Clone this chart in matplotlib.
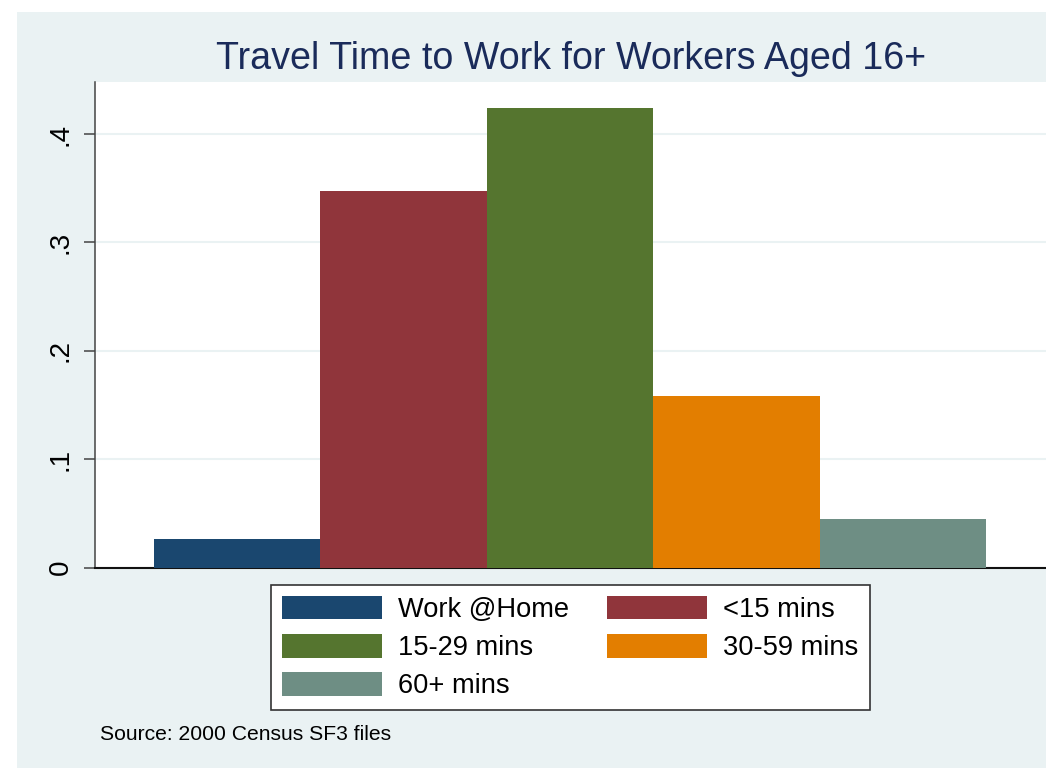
import matplotlib
matplotlib.use("Agg")
import matplotlib.pyplot as plt
from matplotlib.patches import Rectangle, Patch

categories = ["Work @Home", "<15 mins", "15-29 mins", "30-59 mins", "60+ mins"]
shares = [0.0265, 0.3477, 0.4240, 0.1585, 0.0450]
colors = ["#1a476f", "#90353b", "#55752f", "#e37e00", "#6e8e84"]
yticks = [0, 0.1, 0.2, 0.3, 0.4]
ytick_labels = ["0", ".1", ".2", ".3", ".4"]
title = "Travel Time to Work for Workers Aged 16+"
note = "Source: 2000 Census SF3 files"

plt.rcParams['font.family'] = ['Liberation Sans', 'DejaVu Sans']

W, H = 1046, 768
fig = plt.figure(figsize=(W / 100, H / 100), dpi=100)
fig.patch.set_facecolor("white")

bg = "#eaf2f3"
fig.patches.append(Rectangle((17 / W, 0), 1 - 17 / W, 1 - 12 / H,
                             transform=fig.transFigure, facecolor=bg,
                             edgecolor="none", zorder=-10))

ax_left = 95 / W
ax_bottom = 1 - 567.7 / H
ax_top = 1 - 82 / H
ax = fig.add_axes([ax_left, ax_bottom, 1 - ax_left, ax_top - ax_bottom])
ax.set_facecolor("white")

x = list(range(len(categories)))
bars = ax.bar(x, shares, width=1.0, color=colors, edgecolor="none", zorder=3)

ax.set_xlim(-0.854, 4.86)
ax.set_ylim(0, 0.448)
ax.set_xticks([])
ax.set_yticks(yticks)
ax.set_yticklabels(ytick_labels)
plt.setp(ax.get_yticklabels(), rotation=90, va="center", fontsize=20)
ax.tick_params(axis="y", length=7.9, width=1.1, color="#444444", pad=7.5)
ax.yaxis.grid(True, color=bg, linewidth=1.5)
ax.set_axisbelow(True)
for s in ["top", "right"]:
    ax.spines[s].set_visible(False)
ax.spines["left"].set_color("#444444")
ax.spines["left"].set_linewidth(1.1)
ax.spines["bottom"].set_color("#111111")
ax.spines["bottom"].set_linewidth(1.5)

fig.text(571 / W, 1 - 69.3 / H, title, ha="center", va="baseline",
         fontsize=27.1, color="#1a2b5a")
fig.text(100 / W, 1 - 740 / H, note, ha="left", va="baseline",
         fontsize=15.2, color="black")

handles = [Patch(facecolor=c, edgecolor="none") for c in colors]
order = [0, 2, 4, 1, 3]
leg = ax.legend([handles[i] for i in order], [categories[i] for i in order],
                ncol=2, loc="upper left",
                bbox_to_anchor=(271 / W, 1 - 585 / H),
                bbox_transform=fig.transFigure, borderaxespad=0,
                fontsize=19.6, handlelength=3.68, handleheight=0.956,
                handletextpad=0.59, columnspacing=1.4, labelspacing=0.40,
                borderpad=0.40, frameon=True, fancybox=False, framealpha=1)
leg.get_frame().set_edgecolor("#333333")
leg.get_frame().set_linewidth(1.2)
leg.get_frame().set_facecolor("white")

fig.savefig("out.png", dpi=100)
